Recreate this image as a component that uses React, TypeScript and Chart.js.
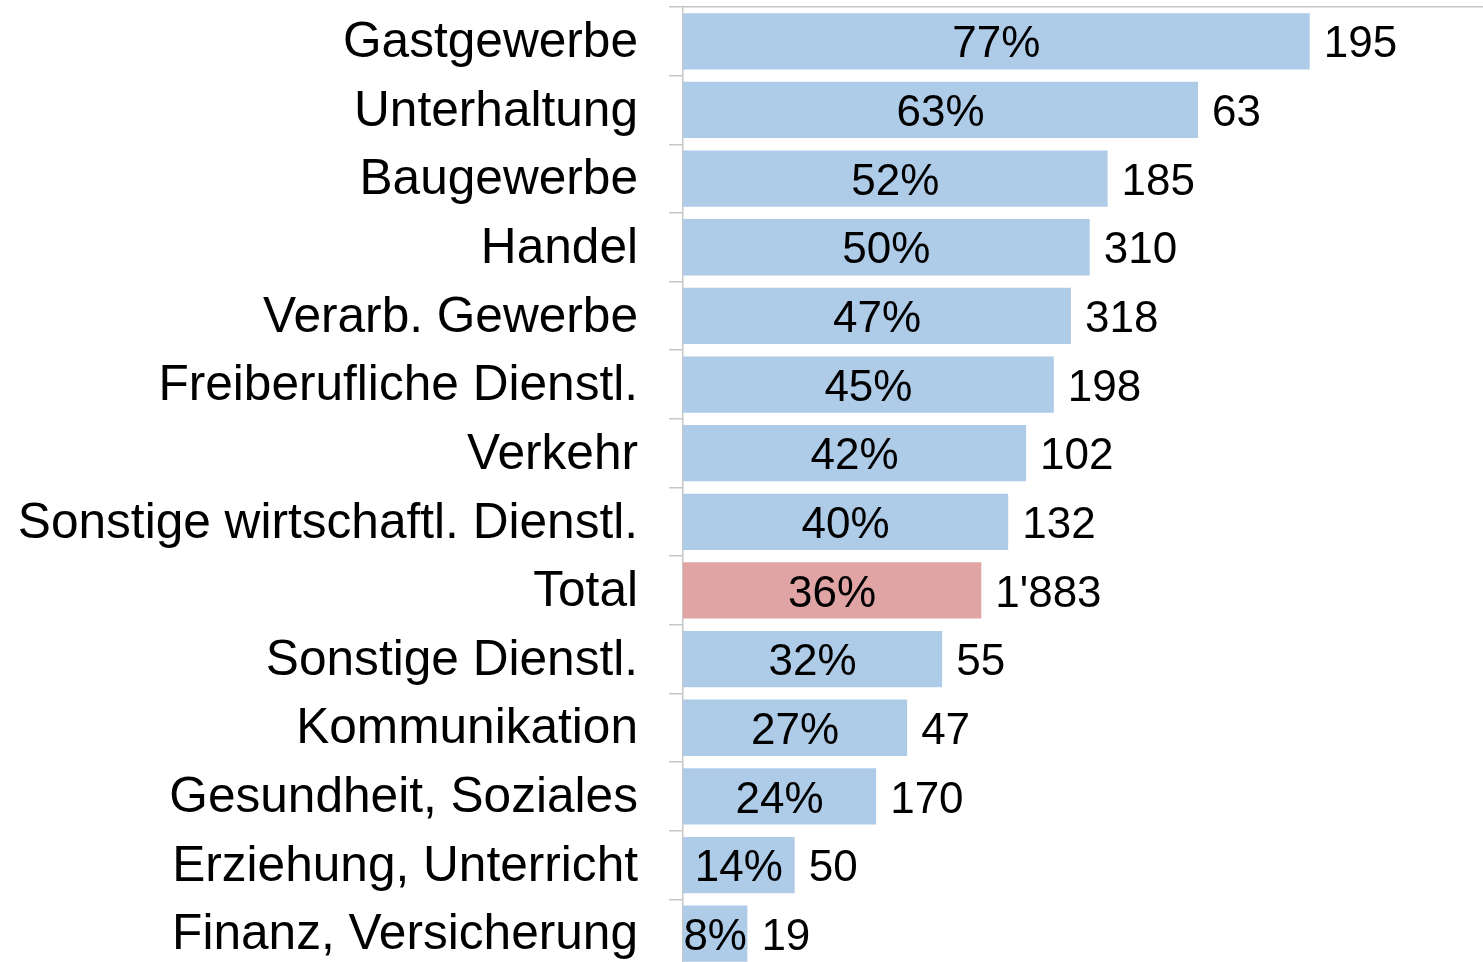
import React, { useEffect, useRef } from "react";
import { Chart, registerables } from "chart.js";

Chart.register(...registerables);

const categories = [
  "Gastgewerbe",
  "Unterhaltung",
  "Baugewerbe",
  "Handel",
  "Verarb. Gewerbe",
  "Freiberufliche Dienstl.",
  "Verkehr",
  "Sonstige wirtschaftl. Dienstl.",
  "Total",
  "Sonstige Dienstl.",
  "Kommunikation",
  "Gesundheit, Soziales",
  "Erziehung, Unterricht",
  "Finanz, Versicherung",
];

const shareValues = [76.9, 63.2, 52.1, 49.9, 47.6, 45.5, 42.1, 39.9, 36.6, 31.8, 27.5, 23.7, 13.7, 7.9];
const shareLabels = ["77%", "63%", "52%", "50%", "47%", "45%", "42%", "40%", "36%", "32%", "27%", "24%", "14%", "8%"];
const countLabels = ["195", "63", "185", "310", "318", "198", "102", "132", "1'883", "55", "47", "170", "50", "19"];

const BLUE = "#aecbe8";
const RED = "#e0a4a4";
const FONT = "'Liberation Sans', Arial, sans-serif";

const labelPlugin = {
  id: "barLabels",
  afterDatasetsDraw(chart: any) {
    const ctx = chart.ctx;
    const meta = chart.getDatasetMeta(0);
    ctx.save();
    ctx.font = `44px ${FONT}`;
    ctx.fillStyle = "#000";
    ctx.textBaseline = "middle";
    meta.data.forEach((bar: any, i: number) => {
      const { x, y, base } = bar.getProps(["x", "y", "base"], true);
      ctx.textAlign = "center";
      ctx.fillText(shareLabels[i], (x + base) / 2, y + 4);
      ctx.textAlign = "left";
      ctx.fillText(countLabels[i], x + 14, y + 4);
    });
    ctx.restore();
  },
};

export default function App() {
  const ref = useRef<HTMLCanvasElement | null>(null);
  useEffect(() => {
    if (!ref.current) return;
    const chart = new Chart(ref.current, {
      type: "bar",
      data: {
        labels: categories,
        datasets: [
          {
            data: shareValues,
            backgroundColor: categories.map((c) => (c === "Total" ? RED : BLUE)),
            borderWidth: 0,
            categoryPercentage: 1,
            barPercentage: 0.82,
          },
        ],
      },
      options: {
        indexAxis: "y",
        responsive: false,
        animation: false,
        layout: { padding: { top: 7, left: 0, right: 0, bottom: 0 } },
        plugins: {
          legend: { display: false },
          tooltip: { enabled: false },
          title: { display: false },
        },
        scales: {
          x: {
            position: "top",
            min: 0,
            max: 100,
            ticks: { display: false, padding: 0 },
            grid: { display: false, drawTicks: false },
            border: { display: true, color: "#c6c6c6", width: 1.5 },
            afterFit: (scale: any) => {
              scale.height = 0;
              scale.paddingLeft = 0;
              scale.paddingRight = 0;
            },
          },
          y: {
            afterFit: (scale: any) => {
              scale.width = 683;
              scale.paddingTop = 0;
              scale.paddingBottom = 0;
            },
            ticks: {
              color: "#000",
              font: { family: FONT, size: 49.6 },
              padding: 31,
              labelOffset: 2,
            },
            grid: {
              offset: true,
              drawOnChartArea: false,
              drawTicks: true,
              tickLength: 14,
              color: "#c6c6c6",
              lineWidth: 1.5,
            },
            border: { display: true, color: "#c6c6c6", width: 1.5 },
          },
        },
      },
      plugins: [labelPlugin],
    });
    return () => chart.destroy();
  }, []);

  return (
    <div
      style={{
        position: "fixed",
        top: 0,
        left: 0,
        width: 1483,
        height: 962,
        overflow: "hidden",
        background: "#fff",
      }}
    >
      <canvas ref={ref} width={1498} height={968} style={{ display: "block" }} />
    </div>
  );
}
